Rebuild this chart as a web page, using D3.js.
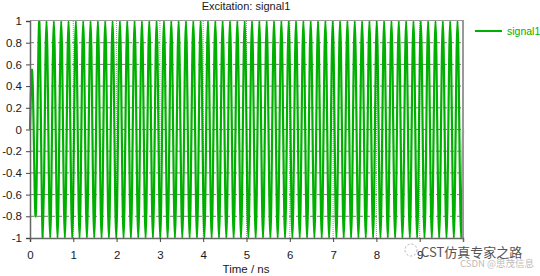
<!DOCTYPE html>
<html>
<head>
<meta charset="utf-8">
<script src="https://cdn.jsdelivr.net/npm/d3@7"></script>
<style>
  body { margin: 0; background: #fff; }
  svg { display: block; font-family: "Liberation Sans", Arial, sans-serif; }
  .tick text { fill: #1a1a1a; font-size: 11.5px; }
</style>
</head>
<body>
<svg id="chart" width="540" height="276"></svg>
<script>
// extreme value of each half cycle of the excitation; zero crossings lie between them
const halfCyclePeaks = [
  0.55, -0.8, 1, -1, 1, -1, 1, -1, 1, -1, 1, -1, 1, -1, 1, -1, 1, -1, 1, -1,
  1, -1, 1, -1, 1, -1, 1, -1, 1, -1, 1, -1, 1, -1, 1, -1, 1, -1, 1, -1,
  1, -1, 1, -1, 1, -1, 1, -1, 1, -1, 1, -1, 1, -1, 1, -1, 1, -1, 1, -1,
  1, -1, 1, -1, 1, -1, 1, -1, 1, -1, 1, -1, 1, -1, 1, -1, 1, -1, 1, -1,
  1, -1, 1, -1, 1, -1, 1, -1, 1, -1, 1, -1, 1, -1, 1, -1, 1, -1, 1, -1,
  1, -1, 1, -1, 1, -1, 1, -1, 1, -1, 1, -1, 1, -1, 1, -1, 1, -1
];
const timeStart = 0;
const timeEnd = 10;
const xTicks = [0, 1, 2, 3, 4, 5, 6, 7, 8, 9];
const yTicks = [-1, -0.8, -0.6, -0.4, -0.2, 0, 0.2, 0.4, 0.6, 0.8, 1];
const seriesName = 'signal1';
const chartTitle = 'Excitation: signal1';
const xLabel = 'Time / ns';

// quarter-period samples: 0, peak, 0, peak, ... , 0
let samples = [0];
halfCyclePeaks.forEach(p => { samples.push(p, 0); });
const quarter = (timeEnd - timeStart) / (samples.length - 1);

const GREEN = '#00b000';
const margin = { left: 30, right: 77, top: 21, bottom: 38 };
const width = 540, height = 276;

const svg = d3.select('#chart');
svg.append('rect').attr('width', width).attr('height', height).attr('fill', '#fff');

let x = d3.scaleLinear().domain([timeStart, timeEnd]).range([margin.left, width - margin.right]);
let y = d3.scaleLinear().domain([-1, 1]).range([height - margin.bottom, margin.top]);

// horizontal dashed grid (behind the trace)
svg.append('g').selectAll('line')
  .data(yTicks.filter(d => d !== -1 && d !== 1))
  .enter().append('line')
  .attr('x1', x(0)).attr('x2', x(10))
  .attr('y1', d => y(d)).attr('y2', d => y(d))
  .attr('stroke', '#777').attr('stroke-width', 1)
  .attr('stroke-dasharray', '4,3');

// the trace
let line = d3.line()
  .x((d, i) => x(timeStart + i * quarter))
  .y(d => y(d))
  .curve(d3.curveNatural);
svg.append('path')
  .datum(samples)
  .attr('d', line)
  .attr('fill', 'none')
  .attr('stroke', GREEN)
  .attr('stroke-width', 2.2);

// vertical dotted grid
svg.append('g').selectAll('line')
  .data(xTicks.filter(d => d !== 0))
  .enter().append('line')
  .attr('x1', d => x(d)).attr('x2', d => x(d))
  .attr('y1', y(1)).attr('y2', y(-1))
  .attr('stroke', '#444').attr('stroke-width', 1)
  .attr('stroke-dasharray', '1,1')
  .attr('opacity', 0.55);

// frame: top and right borders
svg.append('line')
  .attr('x1', x(0)).attr('x2', x(10)).attr('y1', y(1) - 0.5).attr('y2', y(1) - 0.5)
  .attr('stroke', '#999').attr('stroke-width', 1);
svg.append('line')
  .attr('x1', x(10)).attr('x2', x(10)).attr('y1', y(1) - 1).attr('y2', y(-1))
  .attr('stroke', '#999').attr('stroke-width', 2);

// axes
let xAxis = d3.axisBottom(x).tickValues(xTicks).tickSize(4).tickFormat(d3.format('d'));
let yAxis = d3.axisLeft(y).tickValues(yTicks).tickSize(4).tickFormat(d => String(+d.toFixed(1)));

let gx = svg.append('g').attr('transform', 'translate(0,' + y(-1) + ')').call(xAxis);
gx.select('.domain').attr('stroke', '#666').attr('stroke-width', 1.5);
gx.selectAll('.tick line').attr('stroke', '#444');
gx.selectAll('.tick text').attr('dy', '1.2em');

let gy = svg.append('g').attr('transform', 'translate(' + x(0) + ',0)').call(yAxis);
gy.select('.domain').attr('stroke', '#666').attr('stroke-width', 1.5);
gy.selectAll('.tick line').attr('stroke', '#444');
gy.selectAll('.tick text').attr('x', -8);

// title and axis label
svg.append('text')
  .attr('x', 246).attr('y', 10)
  .attr('text-anchor', 'middle').attr('font-size', 11).attr('fill', '#1a1a1a')
  .text(chartTitle);
svg.append('text')
  .attr('x', 246).attr('y', 273)
  .attr('text-anchor', 'middle').attr('font-size', 11.5).attr('fill', '#1a1a1a')
  .text(xLabel);

// legend
let legend = svg.append('g').attr('transform', 'translate(475,31)');
legend.append('line').attr('x1', 0).attr('x2', 27).attr('stroke', GREEN).attr('stroke-width', 2);
legend.append('text').attr('x', 32).attr('y', 4)
  .attr('font-size', 10.5).attr('fill', GREEN).text(seriesName);

// watermark
let wm = svg.append('g');
wm.append('circle').attr('cx', 411).attr('cy', 250).attr('r', 6)
  .attr('fill', 'none').attr('stroke', '#aaa').attr('stroke-dasharray', '2,2');
wm.append('text').attr('x', 421).attr('y', 257)
  .attr('font-size', 13).attr('fill', '#555')
  .attr('font-family', '"Noto Sans CJK SC", sans-serif')
  .text('CST仿真专家之路');
wm.append('text').attr('x', 460).attr('y', 267)
  .attr('font-size', 9.5).attr('fill', '#bbb')
  .attr('font-family', '"Noto Sans CJK SC", sans-serif')
  .text('CSDN @思茂信息');
</script>
</body>
</html>
